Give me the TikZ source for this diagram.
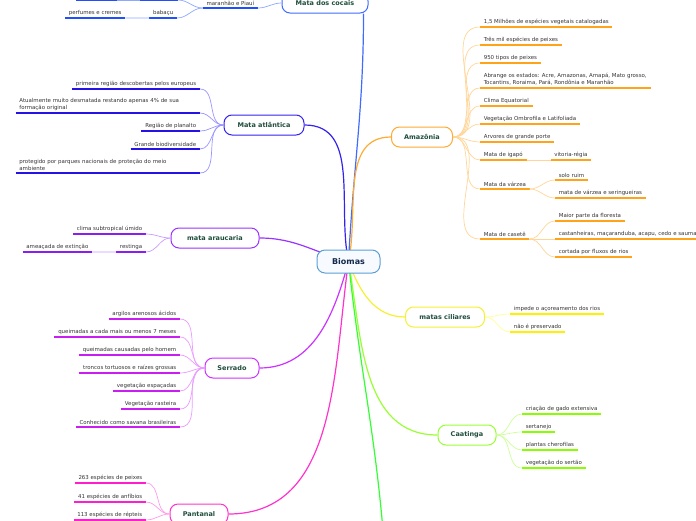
\documentclass[tikz,border=0pt]{standalone}
\usepackage{fontspec}
\setmainfont{DejaVu Sans}
\usepackage{tikz}
\usetikzlibrary{positioning,backgrounds}
\definecolor{topicgreen}{HTML}{1E4D3B}
\definecolor{leafgray}{HTML}{333333}
\definecolor{rootblue}{HTML}{5A9FD4}
\definecolor{rootfill}{HTML}{F7FBFF}
\definecolor{rootnavy}{HTML}{14284B}
\definecolor{cocline}{HTML}{3F6BFF}
\definecolor{cocdark}{HTML}{1F4FFF}
\definecolor{coclight}{HTML}{8FA8FF}
\definecolor{atlline}{HTML}{3322EE}
\definecolor{atldark}{HTML}{2412E6}
\definecolor{atllight}{HTML}{9A94FF}
\definecolor{aruline}{HTML}{9933FF}
\definecolor{arudark}{HTML}{8A1EF0}
\definecolor{arulight}{HTML}{C79BFF}
\definecolor{serline}{HTML}{CC33FF}
\definecolor{serdark}{HTML}{C81EF0}
\definecolor{serlight}{HTML}{EA9BFF}
\definecolor{panline}{HTML}{FF33CC}
\definecolor{pandark}{HTML}{FF1ECF}
\definecolor{panlight}{HTML}{FF9BE6}
\definecolor{amzline}{HTML}{FFAA33}
\definecolor{amzdark}{HTML}{FFA31A}
\definecolor{amzlight}{HTML}{FFD599}
\definecolor{cilline}{HTML}{F5F033}
\definecolor{cildark}{HTML}{FFF000}
\definecolor{cillight}{HTML}{FFFF99}
\definecolor{caaline}{HTML}{99FF33}
\definecolor{caadark}{HTML}{88FF00}
\definecolor{caalight}{HTML}{CCFF99}
\definecolor{grnline}{HTML}{33FF33}

\begin{document}
\begin{tikzpicture}[
    x=1pt, y=-1pt,
    root/.style={draw=rootblue, line width=1pt, rounded corners=8pt, fill=rootfill, minimum width=63pt, minimum height=23pt, font=\fontsize{8}{10}\bfseries\selectfont, text=rootnavy},
    topic/.style={draw=#1, line width=1pt, rounded corners=8pt, fill=white, minimum height=20pt, font=\fontsize{6.5}{8}\bfseries\selectfont, text=topicgreen},
    leaf/.style={font=\fontsize{5.45}{7}\selectfont, text=leafgray, inner xsep=3.6pt, inner ysep=2.5pt, align=left,
        append after command={(\tikzlastnode.south west) edge[line width=1.7pt, draw=#1] (\tikzlastnode.south east)}},
    leftleaf/.style={leaf=#1, anchor=south east},
    rightleaf/.style={leaf=#1, anchor=south west},
    branch/.style={draw=#1, line width=1.2pt},
    twig/.style={draw=#1, line width=0.7pt}
]
\useasboundingbox (0,0) rectangle (696,520);
\node[root] (biomas) at (348.5,261.5) {Biomas};
\node[topic=cocline, minimum width=86pt] (cocais) at (325,3) {Mata dos cocais};
\node[topic=atlline, minimum width=80pt] (atl) at (264,125) {Mata atlântica};
\node[topic=aruline, minimum width=88pt] (arauc) at (215,238) {mata araucaria};
\node[topic=serline, minimum width=54pt] (serr) at (232,368) {Serrado};
\node[topic=panline, minimum width=58pt] (pant) at (199,514) {Pantanal};
\node[topic=amzline, minimum width=61pt] (amaz) at (422,137) {Amazônia};
\node[topic=cilline, minimum width=79pt] (cil) at (445,317) {matas ciliares};
\node[topic=caaline, minimum width=58pt] (caat) at (467,435) {Caatinga};
\coordinate (down) at (383,530);

\begin{scope}[on background layer]
\draw[branch=cocline] (biomas.center) to[out=87,in=-90] ([xshift=-5pt]cocais.south east);
\draw[branch=atlline] (biomas.center) to[out=102,in=0] (atl.east);
\draw[branch=aruline] (biomas.center) to[out=165,in=0] (arauc.east);
\draw[branch=serline] (biomas.center) to[out=-105,in=0] (serr.east);
\draw[branch=panline] (biomas.center) to[out=-98,in=0] (pant.east);
\draw[branch=amzline] (biomas.center) to[out=78,in=180] (amaz.west);
\draw[branch=cilline] (biomas.center) to[out=-70,in=180] (cil.west);
\draw[branch=caaline] (biomas.center) to[out=-80,in=180] (caat.west);
\draw[branch=grnline] (biomas.center) to[out=-84,in=95] (down);
\end{scope}

\node[leftleaf=cocdark] (mapi) at (258,8) {maranhão e Piauí};
\node[leftleaf=cocdark] (baba) at (177,18) {babaçu};
\node[leftleaf=cocdark, left=24pt of baba] (perf) {perfumes e cremes};
\node[leftleaf=cocdark, minimum width=38pt] (topa) at (178,0) {};
\node[leftleaf=cocdark, minimum width=40pt, left=23pt of topa] (topb) {};
\draw[twig=coclight] (cocais.west) to[out=180,in=0] (mapi.south east);
\draw[twig=coclight] (mapi.south west) to[out=180,in=0] (baba.south east);
\draw[twig=coclight] (mapi.south west) to[out=180,in=0] (topa.south east);
\draw[twig=coclight] (baba.south west) -- (perf.south east);
\draw[twig=coclight] (topa.south west) -- (topb.south east);

\node[leftleaf=atldark] (atl1) at (200,89) {primeira região descobertas pelos europeus};
\node[leftleaf=atldark, text width=176.8pt] (atl2) at (200,113) {Atualmente muito desmatada restando apenas 4\% de sua\\formação original};
\node[leftleaf=atldark] (atl3) at (200,131) {Região de planalto};
\node[leftleaf=atldark] (atl4) at (200,149) {Grande biodiversidade};
\node[leftleaf=atldark, text width=176.8pt] (atl5) at (200,173) {protegido por parques nacionais de proteção do meio\\ambiente};
\draw[twig=atllight] (atl.west) to[out=180,in=0] (atl1.south east);
\draw[twig=atllight] (atl.west) to[out=180,in=0] (atl2.south east);
\draw[twig=atllight] (atl.west) to[out=180,in=0] (atl3.south east);
\draw[twig=atllight] (atl.west) to[out=180,in=0] (atl4.south east);
\draw[twig=atllight] (atl.west) to[out=180,in=0] (atl5.south east);

\node[leftleaf=arudark] (aru1) at (146,234) {clima subtropical úmido};
\node[leftleaf=arudark] (rest) at (146,252) {restinga};
\node[leftleaf=arudark, left=24pt of rest] (amea) {ameaçada de extinção};
\draw[twig=arulight] (arauc.west) to[out=180,in=0] (aru1.south east);
\draw[twig=arulight] (arauc.west) to[out=180,in=0] (rest.south east);
\draw[twig=arulight] (rest.south west) -- (amea.south east);

\node[leftleaf=serdark] (ser1) at (180,319) {argilos arenosos ácidos};
\node[leftleaf=serdark] (ser2) at (180,337) {queimadas a cada mais ou menos 7 meses};
\node[leftleaf=serdark] (ser3) at (180,355) {queimadas causadas pelo homem};
\node[leftleaf=serdark] (ser4) at (180,373) {troncos tortuosos e raízes grossas};
\node[leftleaf=serdark] (ser5) at (180,391) {vegetação espaçadas};
\node[leftleaf=serdark] (ser6) at (180,409) {Vegetação rasteira};
\node[leftleaf=serdark] (ser7) at (180,427) {Conhecido como savana brasileiras};
\draw[twig=serlight] (serr.west) to[out=180,in=0] (ser1.south east);
\draw[twig=serlight] (serr.west) to[out=180,in=0] (ser2.south east);
\draw[twig=serlight] (serr.west) to[out=180,in=0] (ser3.south east);
\draw[twig=serlight] (serr.west) to[out=180,in=0] (ser4.south east);
\draw[twig=serlight] (serr.west) to[out=180,in=0] (ser5.south east);
\draw[twig=serlight] (serr.west) to[out=180,in=0] (ser6.south east);
\draw[twig=serlight] (serr.west) to[out=180,in=0] (ser7.south east);

\node[leftleaf=pandark] (pan1) at (146,483) {263 espécies de peixes};
\node[leftleaf=pandark] (pan2) at (146,502) {41 espécies de anfíbios};
\node[leftleaf=pandark] (pan3) at (146,520) {113 espécies de répteis};
\draw[twig=panlight] (pant.west) to[out=180,in=0] (pan1.south east);
\draw[twig=panlight] (pant.west) to[out=180,in=0] (pan2.south east);
\draw[twig=panlight] (pant.west) to[out=180,in=0] (pan3.south east);

\node[rightleaf=amzdark] (amz1) at (480,27) {1,5 Milhões de espécies vegetais catalogadas};
\node[rightleaf=amzdark] (amz2) at (480,45) {Três mil espécies de peixes};
\node[rightleaf=amzdark] (amz3) at (480,63) {950 tipos de peixes};
\node[rightleaf=amzdark] (amz4) at (480,88) {Abrange os estados: Acre, Amazonas, Amapá, Mato grosso,\\Tocantins, Roraima, Pará, Rondônia e Maranhão};
\node[rightleaf=amzdark] (amz5) at (480,106) {Clima Equatorial};
\node[rightleaf=amzdark] (amz6) at (480,124) {Vegetação Ombrofila e Latifoliada};
\node[rightleaf=amzdark] (amz7) at (480,142) {Arvores de grande porte};
\node[rightleaf=amzdark] (igapo) at (480,160) {Mata de igapó};
\node[rightleaf=amzdark, right=24pt of igapo] (vito) {vitoria-régia};
\node[rightleaf=amzdark] (varz) at (480,189) {Mata da várzea};
\node[rightleaf=amzdark] (solo) at (555,180) {solo ruim};
\node[rightleaf=amzdark] (seri) at (555,198) {mata de várzea e seringueiras};
\node[rightleaf=amzdark] (case) at (480,239) {Mata de casetê};
\node[rightleaf=amzdark] (maior) at (555,221) {Maior parte da floresta};
\node[rightleaf=amzdark] (cast) at (555,239) {castanheiras, maçaranduba, acapu, cedo e saumaúma};
\node[rightleaf=amzdark] (cort) at (555,257) {cortada por fluxos de rios};
\draw[twig=amzlight] (amaz.east) to[out=0,in=180] (amz1.south west);
\draw[twig=amzlight] (amaz.east) to[out=0,in=180] (amz2.south west);
\draw[twig=amzlight] (amaz.east) to[out=0,in=180] (amz3.south west);
\draw[twig=amzlight] (amaz.east) to[out=0,in=180] (amz4.south west);
\draw[twig=amzlight] (amaz.east) to[out=0,in=180] (amz5.south west);
\draw[twig=amzlight] (amaz.east) to[out=0,in=180] (amz6.south west);
\draw[twig=amzlight] (amaz.east) to[out=0,in=180] (amz7.south west);
\draw[twig=amzlight] (amaz.east) to[out=0,in=180] (igapo.south west);
\draw[twig=amzlight] (amaz.east) to[out=0,in=180] (varz.south west);
\draw[twig=amzlight] (amaz.east) to[out=0,in=180] (case.south west);
\draw[twig=amzlight] (igapo.south east) -- (vito.south west);
\draw[twig=amzlight] (varz.south east) to[out=0,in=180] (solo.south west);
\draw[twig=amzlight] (varz.south east) to[out=0,in=180] (seri.south west);
\draw[twig=amzlight] (case.south east) to[out=0,in=180] (maior.south west);
\draw[twig=amzlight] (case.south east) -- (cast.south west);
\draw[twig=amzlight] (case.south east) to[out=0,in=180] (cort.south west);

\node[rightleaf=cildark] (cil1) at (510,314) {impede o açoreamento dos rios};
\node[rightleaf=cildark] (cil2) at (510,332) {não é preservado};
\draw[twig=cillight] (cil.east) to[out=0,in=180] (cil1.south west);
\draw[twig=cillight] (cil.east) to[out=0,in=180] (cil2.south west);

\node[rightleaf=caadark] (caa1) at (522,414) {criação de gado extensiva};
\node[rightleaf=caadark] (caa2) at (522,432) {sertanejo};
\node[rightleaf=caadark] (caa3) at (522,450) {plantas cherofilas};
\node[rightleaf=caadark] (caa4) at (522,468) {vegetação do sertão};
\draw[twig=caalight] (caat.east) to[out=0,in=180] (caa1.south west);
\draw[twig=caalight] (caat.east) to[out=0,in=180] (caa2.south west);
\draw[twig=caalight] (caat.east) to[out=0,in=180] (caa3.south west);
\draw[twig=caalight] (caat.east) to[out=0,in=180] (caa4.south west);
\end{tikzpicture}
\end{document}
